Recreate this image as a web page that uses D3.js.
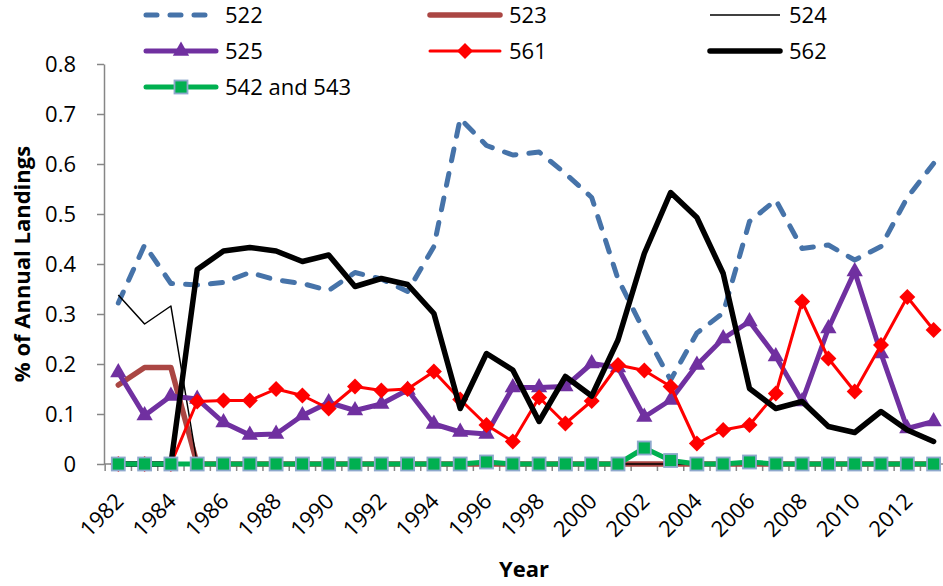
<!DOCTYPE html>
<html>
<head>
<meta charset="utf-8">
<script src="https://cdn.jsdelivr.net/npm/d3@7"></script>
<style>
  html, body { margin: 0; padding: 0; background: #fff; }
  svg { display: block; font-family: "Open Sans", "Noto Sans", sans-serif; }
</style>
</head>
<body>
<svg id="chart" width="943" height="586"></svg>
<script>
// ---------- data ----------
const years = d3.range(1982, 2014);
const xTickLabels = ["1982","1984","1986","1988","1990","1992","1994","1996","1998","2000","2002","2004","2006","2008","2010","2012"];
const yTickValues = [0, 0.1, 0.2, 0.3, 0.4, 0.5, 0.6, 0.7, 0.8];
const yTickLabels = ["0","0.1","0.2","0.3","0.4","0.5","0.6","0.7","0.8"];
const seriesNames = ["522", "523", "524", "525", "561", "562", "542 and 543"];

const s522 = [0.322,0.438,0.361,0.358,0.363,0.383,0.368,0.361,0.347,0.383,0.370,0.345,0.435,0.691,0.637,0.618,0.624,0.581,0.533,0.370,0.265,0.168,0.262,0.302,0.485,0.528,0.431,0.438,0.408,0.435,0.533,0.601];
const s523 = [0.158,0.193,0.193,0,0,0,0,0,0,0,0,0,0,0,0,0,0,0,0,0,0,0,0,0,0,0,0,0,0,0,0,0];
const s524 = [0.338,0.280,0.316,0,0,0,0,0,0,0,0,0,0,0,0,0,0,0,0,0,0,0,0,0,0,0,0,0,0,0,0,0];
const s525 = [0.183,0.097,0.136,0.130,0.083,0.058,0.060,0.097,0.123,0.107,0.120,0.148,0.080,0.064,0.060,0.153,0.153,0.155,0.201,0.193,0.094,0.128,0.198,0.251,0.285,0.215,0.125,0.271,0.385,0.221,0.071,0.085];
const s561 = [0,0,0,0.125,0.127,0.127,0.150,0.137,0.111,0.155,0.147,0.150,0.185,0.129,0.078,0.045,0.133,0.081,0.126,0.198,0.187,0.155,0.041,0.068,0.078,0.141,0.325,0.211,0.145,0.238,0.334,0.268];
const s562 = [0,0,0,0.389,0.426,0.433,0.426,0.405,0.418,0.355,0.371,0.359,0.301,0.111,0.221,0.188,0.085,0.175,0.136,0.248,0.421,0.543,0.493,0.381,0.151,0.111,0.125,0.075,0.063,0.105,0.068,0.045];
const s542 = [0,0,0,0,0,0,0,0,0,0,0,0,0,0,0.004,0,0,0,0,0,0.032,0.007,0,0,0.004,0,0,0,0,0,0,0];

// ---------- styles ----------
const styles = [
  { data: s522, color: "#4673A9", width: 5, dash: "12,13", cap: "round", marker: null },
  { data: s523, color: "#AA4643", width: 5.5, dash: null, cap: "round", marker: null },
  { data: s524, color: "#000000", width: 1.5, dash: null, cap: "butt", marker: null },
  { data: s525, color: "#7030A0", width: 5, dash: null, cap: "round", marker: "triangle" },
  { data: s561, color: "#FF0000", width: 3, dash: null, cap: "round", marker: "diamond" },
  { data: s562, color: "#000000", width: 5.5, dash: null, cap: "round", marker: null },
  { data: s542, color: "#00B050", width: 5, dash: null, cap: "round", marker: "square" }
];

const svg = d3.select("#chart");
const x = d3.scalePoint().domain(years).range([118.3, 933.6]);
const xBand = d3.scaleBand().domain(years).range([105.15, 946.75]).padding(0);
const y = d3.scaleLinear().domain([0, 0.8]).range([464, 64]);
const fs = 22;

// ---------- axes ----------
const axisColor = "#868686";
const yAxis = svg.append("g").attr("transform", "translate(104,0)")
  .call(d3.axisLeft(y).tickValues(yTickValues).tickSize(7).tickSizeOuter(0)
        .tickPadding(21).tickFormat((d, i) => yTickLabels[i]));
yAxis.select(".domain").attr("stroke", axisColor).attr("stroke-width", 1.5);
yAxis.selectAll(".tick line").attr("stroke", axisColor).attr("stroke-width", 1.5);
yAxis.selectAll(".tick text").attr("font-size", fs).attr("fill", "#000")
  .attr("font-family", "'Open Sans', sans-serif");

// x axis line + boundary ticks
const xg = svg.append("g");
xg.append("line").attr("x1", 104).attr("x2", 946.75).attr("y1", 464).attr("y2", 464)
  .attr("stroke", axisColor).attr("stroke-width", 1.5);
xg.selectAll("line.tk").data(years.concat([null])).join("line").attr("class", "tk")
  .attr("x1", d => d === null ? xBand.range()[1] : xBand(d))
  .attr("x2", d => d === null ? xBand.range()[1] : xBand(d))
  .attr("y1", 464).attr("y2", 471)
  .attr("stroke", axisColor).attr("stroke-width", 1.5);
xg.selectAll("text.xl").data(xTickLabels).join("text").attr("class", "xl")
  .attr("transform", d => `translate(${x(+d) + 1},${497}) rotate(-45)`)
  .attr("text-anchor", "end").attr("dy", "0.36em")
  .attr("font-size", fs).text(d => d);

// axis titles
svg.append("text").attr("x", 524).attr("y", 577).attr("text-anchor", "middle")
  .attr("font-size", fs).attr("font-weight", "bold").text("Year");
svg.append("text").attr("transform", "translate(22,264) rotate(-90)")
  .attr("text-anchor", "middle").attr("dy", "0.36em")
  .attr("font-size", fs).attr("font-weight", "bold").text("% of Annual Landings");

// ---------- series ----------
const line = d3.line().x((d, i) => x(years[i])).y(d => y(d)).curve(d3.curveLinear);

function drawMarker(g, type, color, cx, cy) {
  if (type === "triangle") {
    g.append("path").attr("d", d3.symbol(d3.symbolTriangle, 115)())
      .attr("transform", `translate(${cx},${cy})`).attr("fill", color);
  } else if (type === "diamond") {
    const r = 8;
    g.append("path").attr("d", `M${cx},${cy - r}L${cx + r},${cy}L${cx},${cy + r}L${cx - r},${cy}Z`)
      .attr("fill", color);
  } else if (type === "square") {
    g.append("rect").attr("x", cx - 6.5).attr("y", cy - 6.5).attr("width", 13).attr("height", 13)
      .attr("fill", color).attr("stroke", "#8EA8CC").attr("stroke-width", 1.8);
  }
}

styles.forEach((s, si) => {
  const g = svg.append("g").attr("class", "series s" + si);
  g.append("path").datum(s.data).attr("d", line)
    .attr("fill", "none").attr("stroke", s.color).attr("stroke-width", s.width)
    .attr("stroke-linejoin", "round").attr("stroke-linecap", s.cap)
    .attr("stroke-dasharray", s.dash);
  if (s.marker) {
    s.data.forEach((v, i) => drawMarker(g, s.marker, s.color, x(years[i]), y(v)));
  }
});

// ---------- legend ----------
const legend = svg.append("g").attr("class", "legend");
const colX = [146, 430, 710];
const rowY = [15, 51, 87];
styles.forEach((s, si) => {
  const col = si % 3, row = Math.floor(si / 3);
  const lx = colX[col], ly = rowY[row];
  const lw = 70;
  const g = legend.append("g");
  g.append("line").attr("x1", lx).attr("x2", lx + lw).attr("y1", ly).attr("y2", ly)
    .attr("stroke", s.color).attr("stroke-width", s.width)
    .attr("stroke-linecap", s.dash ? "round" : (s.width > 2 ? "round" : "butt"))
    .attr("stroke-dasharray", s.dash ? "11,13" : null);
  if (s.marker) drawMarker(g, s.marker, s.color, lx + lw / 2, ly);
  g.append("text").attr("x", lx + lw + 9).attr("y", ly).attr("dy", "0.36em")
    .attr("font-size", fs).text(seriesNames[si]);
});
</script>
</body>
</html>
